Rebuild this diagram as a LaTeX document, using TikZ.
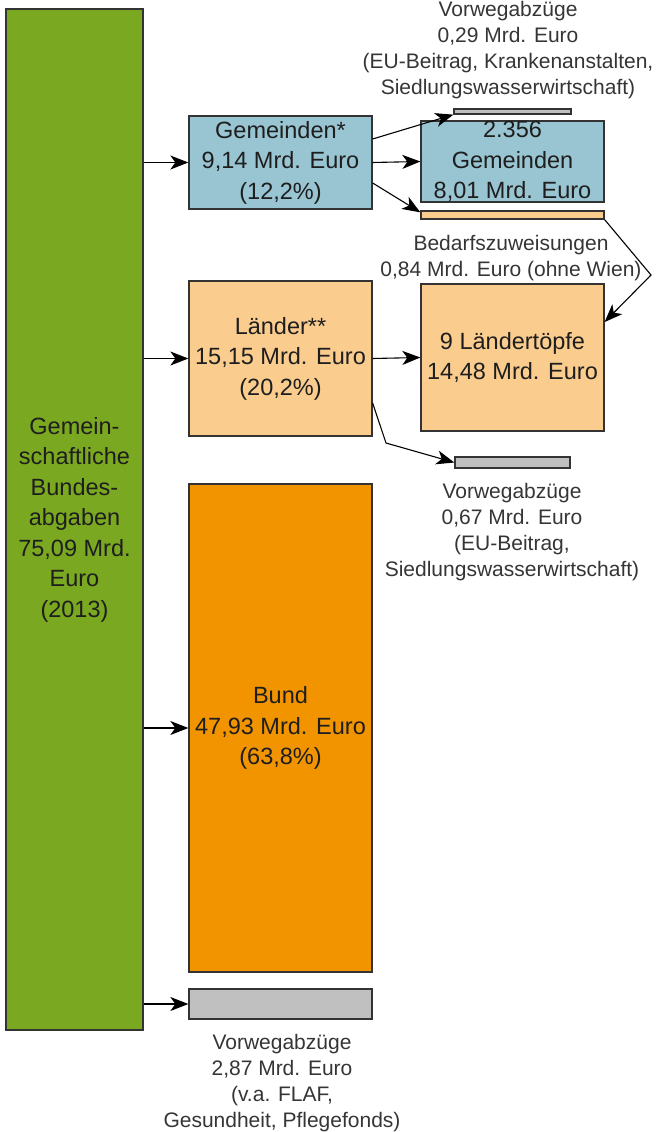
\documentclass[tikz,border=0pt]{standalone}
\usepackage{fontspec}
\setmainfont{Liberation Sans}
\usetikzlibrary{arrows.meta}
\definecolor{cgreen}{RGB}{123,168,33}
\definecolor{cblue}{RGB}{153,196,209}
\definecolor{clight}{RGB}{250,204,142}
\definecolor{corange}{RGB}{242,148,0}
\definecolor{cgray}{RGB}{192,192,192}
\definecolor{cborder}{RGB}{51,51,51}
\definecolor{ctext}{RGB}{30,30,30}
\begin{document}
\begin{tikzpicture}[x=1pt,y=-1pt,
  boxstyle/.style={draw=cborder,line width=1.3pt,rectangle,inner sep=0pt,align=center,
     text=ctext,font=\fontsize{23.5}{30.5}\selectfont},
  notestyle/.style={inner sep=0pt,align=center,text=ctext!90!white,font=\fontsize{21}{26}\selectfont},
  conn/.style={draw=black,line width=1.1pt,-{Stealth[length=18pt,width=14pt,inset=5pt]}},
  plainline/.style={draw=black,line width=1pt}]
\useasboundingbox (0,0) rectangle (658,1132);
\node[boxstyle,fill=cgreen,minimum width=137pt,minimum height=1021pt] (green) at (74.5,519.5)
  {Gemein-\\schaftliche\\Bundes-\\abgaben\\75,09 Mrd.\\Euro\\(2013)};
\node[boxstyle,fill=cblue,minimum width=183pt,minimum height=93pt] (gem) at (280.5,162.5)
  {Gemeinden*\\9,14 Mrd. Euro\\(12,2\%)};
\node[boxstyle,fill=cblue,minimum width=183pt,minimum height=81pt] (gemr) at (512.5,161.5)
  {2.356\\Gemeinden\\8,01 Mrd. Euro};
\node[boxstyle,fill=cgray,minimum width=117pt,minimum height=5pt] (topbar) at (512.5,111.5) {};
\node[boxstyle,fill=clight,minimum width=183pt,minimum height=8pt] (obar) at (512.5,215) {};
\node[boxstyle,fill=clight,minimum width=183pt,minimum height=155pt] (laender) at (280.5,358.5)
  {Länder**\\15,15 Mrd. Euro\\(20,2\%)};
\node[boxstyle,fill=clight,minimum width=183pt,minimum height=147pt] (lt) at (512.5,357.5)
  {9 Ländertöpfe\\14,48 Mrd. Euro};
\node[boxstyle,fill=cgray,minimum width=115pt,minimum height=11pt] (midbar) at (512.5,462.5) {};
\node[boxstyle,fill=corange,minimum width=183pt,minimum height=488pt] (bund) at (280.5,728)
  {Bund\\47,93 Mrd. Euro\\(63,8\%)};
\node[boxstyle,fill=cgray,minimum width=183pt,minimum height=30pt] (botbar) at (280.5,1004) {};

\node[notestyle] (n1) at (508,50)
  {Vorwegabzüge\\0,29 Mrd. Euro\\(EU-Beitrag, Krankenanstalten,\\Siedlungswasserwirtschaft)};
\node[notestyle] (n2) at (511,258)
  {Bedarfszuweisungen\\0,84 Mrd. Euro (ohne Wien)};
\node[notestyle] (n3) at (512,532)
  {Vorwegabzüge\\0,67 Mrd. Euro\\(EU-Beitrag,\\Siedlungswasserwirtschaft)};
\node[notestyle] (n4) at (282,1083)
  {Vorwegabzüge\\2,87 Mrd. Euro\\(v.a. FLAF,\\Gesundheit, Pflegefonds)};

\coordinate (c1) at (651,275);
\coordinate (c2) at (386,443);

\draw[conn] (gem.west -| green.east) -- (gem.west);
\draw[conn] (laender.west -| green.east) -- (laender.west);
\draw[conn] (bund.west -| green.east) -- (bund.west);
\draw[conn] (botbar.west -| green.east) -- (botbar.west);
\draw[conn] (gem.east) -- (gemr.west);
\draw[conn] ([yshift=23.5pt]gem.east) -- (topbar.south west);
\draw[conn] ([yshift=-20.5pt]gem.east) -- ([yshift=-2pt]obar.north west);
\draw[conn] (obar.south east) -- (c1) -- ([yshift=35.5pt]lt.east);
\draw[conn] (laender.east) -- (lt.west);
\draw[conn] ([yshift=-44.5pt]laender.east) -- (c2) -- (midbar.west);
\end{tikzpicture}
\end{document}
